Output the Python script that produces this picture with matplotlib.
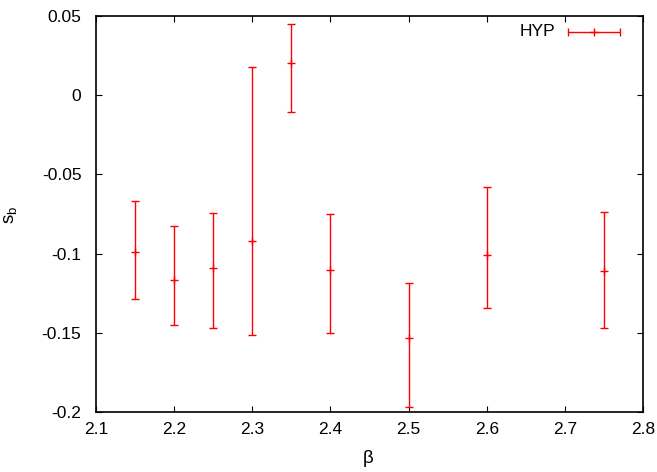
import matplotlib
matplotlib.use("Agg")
import matplotlib.pyplot as plt
import numpy as np

plt.rcParams['font.family'] = ['Liberation Sans', 'DejaVu Sans']

beta = [2.15, 2.2, 2.25, 2.3, 2.35, 2.4, 2.5, 2.6, 2.75]
s_b = [-0.0992, -0.1167, -0.1093, -0.0923, 0.0205, -0.1101, -0.1531, -0.1009, -0.1108]
s_b_low = [-0.1289, -0.1449, -0.1472, -0.1514, -0.0104, -0.1499, -0.1966, -0.1343, -0.1468]
s_b_high = [-0.0668, -0.0826, -0.0746, 0.0178, 0.0451, -0.0748, -0.1184, -0.0582, -0.0739]

xticks = [2.1, 2.2, 2.3, 2.4, 2.5, 2.6, 2.7, 2.8]
yticks = [-0.2, -0.15, -0.1, -0.05, 0, 0.05]
ytick_labels = ['-0.2', '-0.15', '-0.1', '-0.05', '0', '0.05']

fig = plt.figure(figsize=(6.57, 4.72), dpi=100)
ax = fig.add_axes([96/657, 1-412/472, (643-96)/657, (412-16)/472])

y = np.array(s_b)
yerr = [y - np.array(s_b_low), np.array(s_b_high) - y]
ax.errorbar(beta, y, yerr=yerr, fmt='+', color='#ff0000', ecolor='#ff0000',
            elinewidth=1.0, capsize=3, capthick=1.0, markersize=6, markeredgewidth=1.0)

ax.set_xlim(2.1, 2.8)
ax.set_ylim(-0.2, 0.05)
ax.set_xticks(xticks)
ax.set_xticklabels([f"{t:g}" for t in xticks])
ax.set_yticks(yticks)
ax.set_yticklabels(ytick_labels)
ax.tick_params(direction='in', length=4.5, width=0.8, top=True, right=True,
               labelsize=12.5, colors='black')
ax.tick_params(axis='y', pad=10.5)
ax.tick_params(axis='x', pad=7)
for s in ax.spines.values():
    s.set_linewidth(1.2)

ax.set_xlabel('β', fontsize=13.5)
ax.xaxis.set_label_coords((368-96)/547, -(450-412)/396)
ax.set_ylabel('s$_\\mathregular{b}$', fontsize=13.5)
ax.yaxis.set_label_coords(-(96-20)/547, (412-215)/396)

# legend drawn gnuplot-style
ax.text((555-96)/547, (412-31.5)/396, 'HYP', transform=ax.transAxes,
        ha='right', va='center', fontsize=12.5)
ly = (412-31.5)/396
lx0, lx1 = (568-96)/547, (620-96)/547
ax.errorbar([(lx0+lx1)/2], [ly], xerr=[[(lx1-lx0)/2]], fmt='+', color='#ff0000',
            elinewidth=1.0, capsize=3, capthick=1.0, markersize=6,
            transform=ax.transAxes, clip_on=False)

fig.savefig('out.png', dpi=100)
